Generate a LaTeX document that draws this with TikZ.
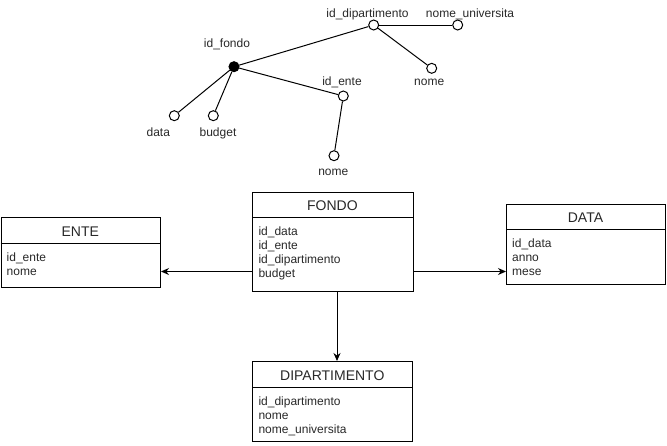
\documentclass[tikz,border=0pt]{standalone}
\usepackage{fontspec}
\setmainfont{Liberation Sans}
\usetikzlibrary{arrows.meta,calc}
\definecolor{txt}{RGB}{40,40,40}
\tikzset{
  attrdot/.style={circle,draw=black,fill=white,line width=1pt,minimum size=10pt,inner sep=0pt},
  keydot/.style={attrdot,fill=black},
  lbl/.style={font=\fontsize{12}{14}\selectfont,text=txt,inner sep=0pt,anchor=base},
  tblbox/.style={draw=black,line width=1pt,inner sep=0pt},
  tbltitle/.style={font=\fontsize{14}{16}\selectfont,text=txt,inner sep=0pt},
  tblattr/.style={font=\fontsize{12}{14}\selectfont,text=txt,inner sep=0pt,anchor=base west},
  conn/.style={line width=1pt,draw=black},
  arr/.style={line width=1pt,draw=black,-{Stealth[length=8pt,width=7pt]}}
}
% #1 name, #2 x1, #3 y1, #4 x2, #5 y2, #6 header y, #7 title, #8 attribute list
\newcommand{\erbox}[8]{%
  \node[tblbox,minimum width=#4-#2,minimum height=#5-#3,anchor=north west] (#1) at (#2,#3) {};
  \draw[line width=1pt] (#2,#6) -- (#4,#6);
  \node[tbltitle] (#1-title) at ({(#2+#4)/2},{(#3+#6)/2+1}) {#7};
  \foreach \t [count=\k] in {#8} {
    \node[tblattr] (#1-a\k) at (#2+6,{#6+18+(\k-1)*14}) {\t};
  }%
}
\begin{document}
\begin{tikzpicture}[x=1pt,y=-1pt]
\useasboundingbox (0,0) rectangle (667,445);
% attribute tree
\node[keydot] (fondo-k) at (234,66.7) {};
\node[attrdot] (dip-k) at (373.7,25) {};
\node[attrdot] (uni) at (457.7,25) {};
\node[attrdot] (dip-nome) at (431.7,68.3) {};
\node[attrdot] (ente-k) at (343.3,96) {};
\node[attrdot] (ente-nome) at (334,155.7) {};
\node[attrdot] (data-k) at (174.3,115.7) {};
\node[attrdot] (budget) at (213.3,115.7) {};
\draw[conn] (fondo-k) -- (dip-k);
\draw[conn] (fondo-k) -- (ente-k);
\draw[conn] (fondo-k) -- (data-k);
\draw[conn] (fondo-k) -- (budget);
\draw[conn] (dip-k) -- (uni);
\draw[conn] (dip-k) -- (dip-nome);
\draw[conn] (ente-k) -- (ente-nome);
\node[lbl] (l-fondo) at (227,47.5) {id\_fondo};
\node[lbl] (l-dip) at (367.5,17) {id\_dipartimento};
\node[lbl] (l-uni) at (470,17) {nome\_universita};
\node[lbl] (l-dipnome) at (429.2,85.5) {nome};
\node[lbl] (l-ente) at (342,85.5) {id\_ente};
\node[lbl] (l-entenome) at (333.3,175) {nome};
\node[lbl] (l-data) at (158.3,136) {data};
\node[lbl] (l-budget) at (218,136) {budget};
% tables
\erbox{ente}{0.5}{217.3}{160}{286.7}{243.3}{ENTE}{id\_ente,nome}
\erbox{fondo}{252.3}{191.7}{412.5}{291}{217.3}{FONDO}{id\_data,id\_ente,id\_dipartimento,budget}
\erbox{data}{506}{204}{665}{284.3}{229.3}{DATA}{id\_data,anno,mese}
\erbox{dip}{252.3}{361}{412.3}{441}{387.7}{DIPARTIMENTO}{id\_dipartimento,nome,nome\_universita}
% connectors
\coordinate (rowy) at (0,271.5);
\draw[arr] (fondo.west |- rowy) -- (ente.east |- rowy);
\draw[arr] (fondo.east |- rowy) -- (data.west |- rowy);
\draw[arr] (fondo.south -| 337,0) -- (dip.north -| 337,0);
\end{tikzpicture}
\end{document}
